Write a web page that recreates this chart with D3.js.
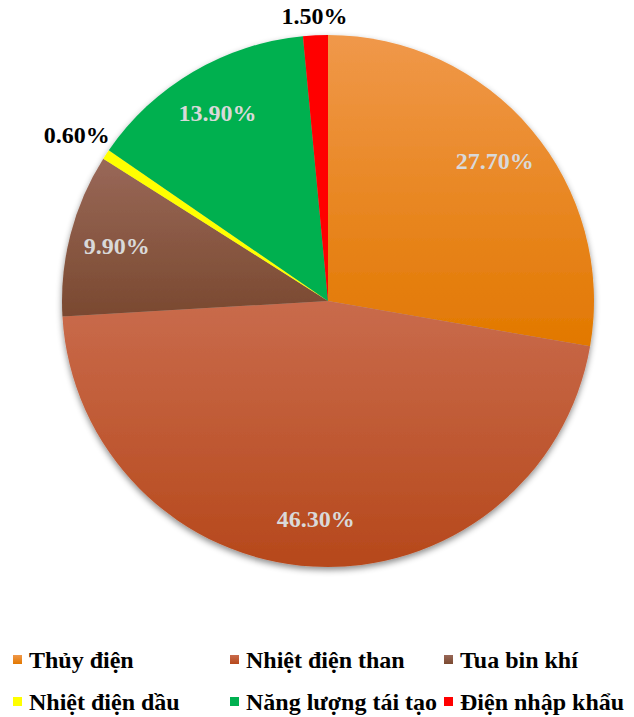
<!DOCTYPE html>
<meta charset='utf-8'>
<style>
html, body {
  margin: 0;
  padding: 0;
  background: #fff;
}
</style>
<body>
<div id='chart'></div>
<script src='https://cdn.jsdelivr.net/npm/d3@7/dist/d3.min.js'></script>
<script>

var categories = ['Thủy điện', 'Nhiệt điện than', 'Tua bin khí',
                  'Nhiệt điện dầu', 'Năng lượng tái tạo', 'Điện nhập khẩu'];
var values = [27.7, 46.3, 9.9, 0.6, 13.9, 1.5];
var labels = ['27.70%', '46.30%', '9.90%', '0.60%', '13.90%', '1.50%'];

// light top / dark bottom for each slice
var colorTop = ['#F0984A', '#C96B4C', '#996858', '#FFFF00', '#00B050', '#FF0000'];
var colorBot = ['#E27800', '#B6481B', '#7A4930', '#FFFF00', '#00B050', '#FF0000'];

var width = 634, height = 717;
var cx = 328, cy = 301, r = 266;
var font = "'Liberation Serif', 'Times New Roman', 'DejaVu Serif', serif";

var svg = d3.select('#chart').append('svg')
    .attr('width', width)
    .attr('height', height)
    .style('font-family', font)
    .style('font-weight', 'bold');

var defs = svg.append('defs');
var f = defs.append('filter').attr('id', 'shadow')
    .attr('x', '-10%').attr('y', '-10%').attr('width', '120%').attr('height', '120%');
f.append('feDropShadow')
    .attr('dx', 0).attr('dy', 3).attr('stdDeviation', 3)
    .attr('flood-color', '#000').attr('flood-opacity', 0.45);

categories.forEach(function(c, i) {
  var g = defs.append('linearGradient').attr('id', 'grad' + i)
      .attr('x1', 0).attr('y1', 0).attr('x2', 0).attr('y2', 1);
  g.append('stop').attr('offset', '0%').attr('stop-color', colorTop[i]);
  g.append('stop').attr('offset', '100%').attr('stop-color', colorBot[i]);
});

var pie = d3.pie().sort(null).value(function(d) { return d; });
var arcs = pie(values);
var arc = d3.arc().innerRadius(0).outerRadius(r);

var g = svg.append('g').attr('transform', 'translate(' + cx + ',' + cy + ')');

var slices = g.append('g').attr('filter', 'url(#shadow)');
slices.selectAll('path')
  .data(arcs)
  .enter().append('path')
    .attr('d', arc)
    .attr('fill', function(d, i) { return 'url(#grad' + i + ')'; });

// labels: big slices inside, small ones just outside the rim
var fs = 24;
g.selectAll('text.lbl')
  .data(arcs)
  .enter().append('text')
    .attr('class', 'lbl')
    .attr('font-family', font)
    .attr('font-weight', 'bold')
    .attr('font-size', fs)
    .attr('text-anchor', 'middle')
    .attr('dominant-baseline', 'central')
    .attr('fill', function(d) { return d.value < 5 ? '#000' : '#D9D9D9'; })
    .attr('transform', function(d, i) {
      var a = (d.startAngle + d.endAngle) / 2;
      var s = Math.sin(a), c = Math.cos(a), rr;
      if (d.value < 5) {
        var w = labels[i].length * fs * 0.45;
        rr = r + 6 + Math.abs(s) * w / 2 + Math.abs(c) * fs / 2;
      } else {
        rr = r * 0.82;
      }
      return 'translate(' + (s * rr) + ',' + (-c * rr) + ')';
    })
    .text(function(d, i) { return labels[i]; });

// legend, 3 per row
var colX = [13, 230, 444];
var rowY = [660, 702];
var leg = svg.append('g').selectAll('g')
  .data(categories)
  .enter().append('g')
    .attr('transform', function(d, i) {
      return 'translate(' + colX[i % 3] + ',' + rowY[Math.floor(i / 3)] + ')';
    });
leg.append('rect')
    .attr('x', 0).attr('y', -5)
    .attr('width', 9).attr('height', 9)
    .attr('fill', function(d, i) { return 'url(#grad' + i + ')'; });
leg.append('text')
    .attr('x', 16)
    .attr('y', 8)
    .attr('font-family', font)
    .attr('font-weight', 'bold')
    .attr('font-size', fs)
    .attr('fill', '#000')
    .text(function(d) { return d; });

</script>
</body>
